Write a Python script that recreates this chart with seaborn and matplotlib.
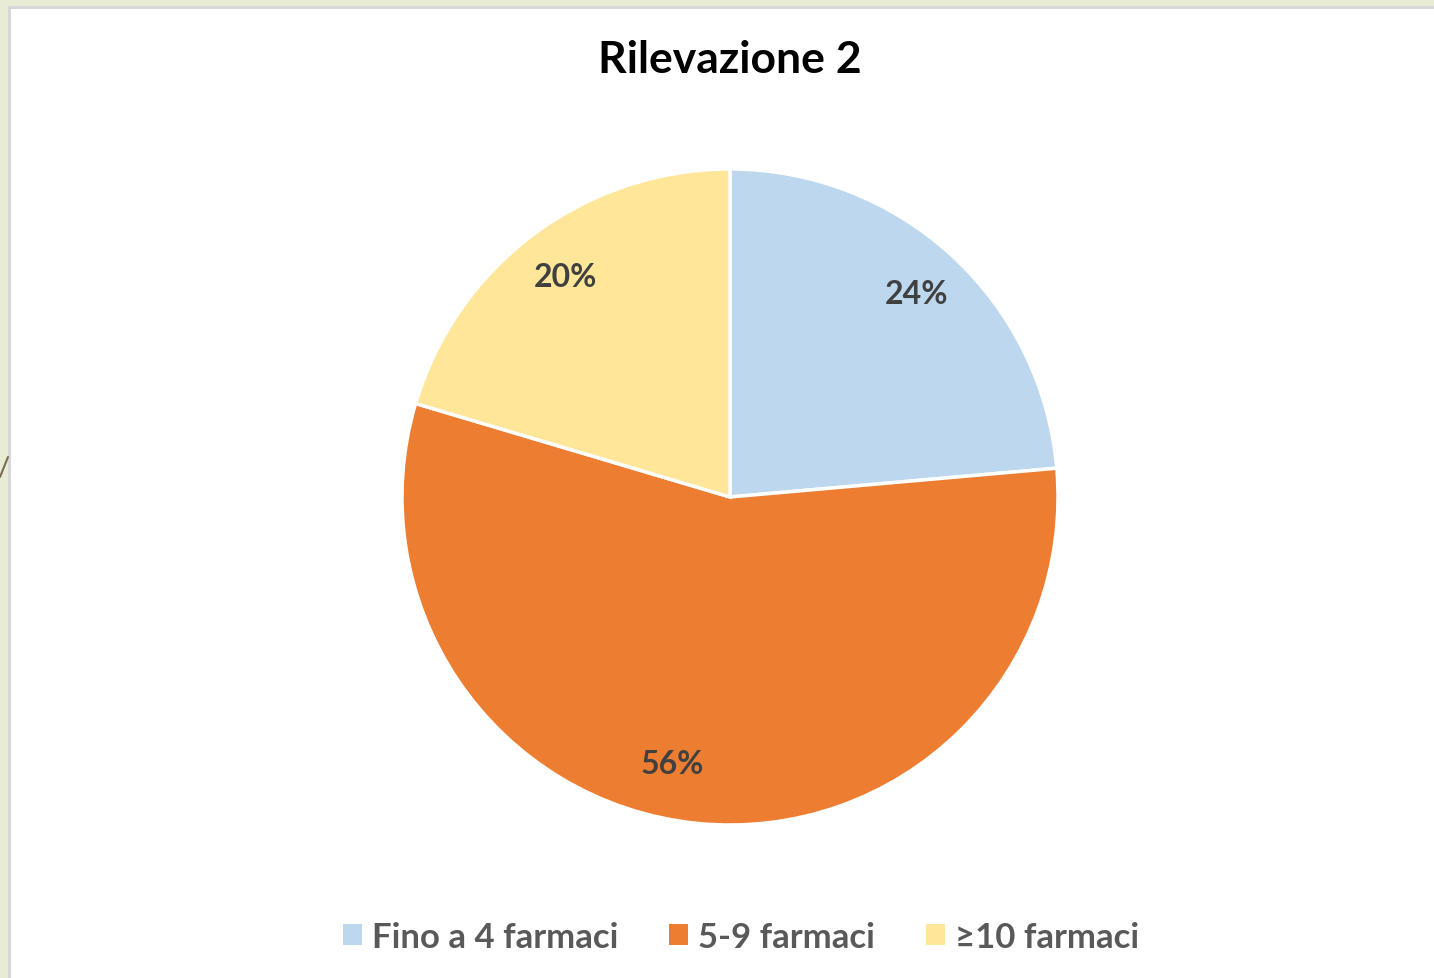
import numpy as np
import matplotlib.pyplot as plt
import seaborn as sns
from matplotlib.patches import Rectangle, Patch
from matplotlib.lines import Line2D

# Chart data
categories = ["Fino a 4 farmaci", "5-9 farmaci", "\u226510 farmaci"]
shares = [23.6, 56.0, 20.4]
colors = ["#BDD7EE", "#ED7D31", "#FFE699"]
title = "Rilevazione 2"

sns.set_theme(style="white")
plt.rcParams["font.family"] = ["Lato", "DejaVu Sans"]

W, H = 1434, 979
fig = plt.figure(figsize=(W / 100, H / 100), dpi=100)
fig.patch.set_facecolor("#E8ECD4")

# slide frame: gray border and white chart area
fig.patches.append(Rectangle((8 / W, 0), 1, 1 - 7 / H, transform=fig.transFigure,
                             facecolor="#D8D8D8", edgecolor="none", zorder=-10))
fig.patches.append(Rectangle((11 / W, 0), 1, 1 - 10 / H, transform=fig.transFigure,
                             facecolor="white", edgecolor="none", zorder=-9))
# slide decoration peeking out on the left
fig.add_artist(Line2D([0, 8 / W], [1 - 478 / H, 1 - 458 / H], color="#7A6E55",
                      linewidth=1.5, zorder=-8))

# pie axes: centre (730, 498), radius 328 px
cx, cy, r = 730, 498, 328
ax = fig.add_axes([(cx - r) / W, (H - cy - r) / H, 2 * r / W, 2 * r / H])
ax.set_zorder(1)
wedges, texts, autotexts = ax.pie(
    shares, colors=colors, startangle=90, counterclock=False,
    autopct="%.0f%%", pctdistance=0.84,
    wedgeprops=dict(edgecolor="white", linewidth=2.5),
    textprops=dict(fontsize=23, fontweight="bold", color="#404040"),
)
# the big slice's label sits a little left of its mid-angle (Excel best fit)
w = wedges[1]
ang = np.deg2rad((w.theta1 + w.theta2) / 2 - 6.5)
autotexts[1].set_position((0.83 * np.cos(ang), 0.83 * np.sin(ang)))

ax.set_xlim(-1, 1)
ax.set_ylim(-1, 1)
ax.set_aspect("equal")
ax.axis("off")

fig.text(cx / W, 1 - 60 / H, title, ha="center", va="center",
         fontsize=32, fontweight="bold", color="black")

handles = [Patch(facecolor=c, edgecolor="none") for c in colors]
fig.legend(handles, categories, loc="center", bbox_to_anchor=(741 / W, 1 - 938 / H),
           ncol=3, frameon=False, handlelength=0.55, handleheight=0.55,
           handletextpad=0.3, columnspacing=1.45, labelcolor="#595959",
           prop=dict(size=25, weight="bold"))

fig.savefig("out.png", dpi=100, facecolor=fig.get_facecolor())
